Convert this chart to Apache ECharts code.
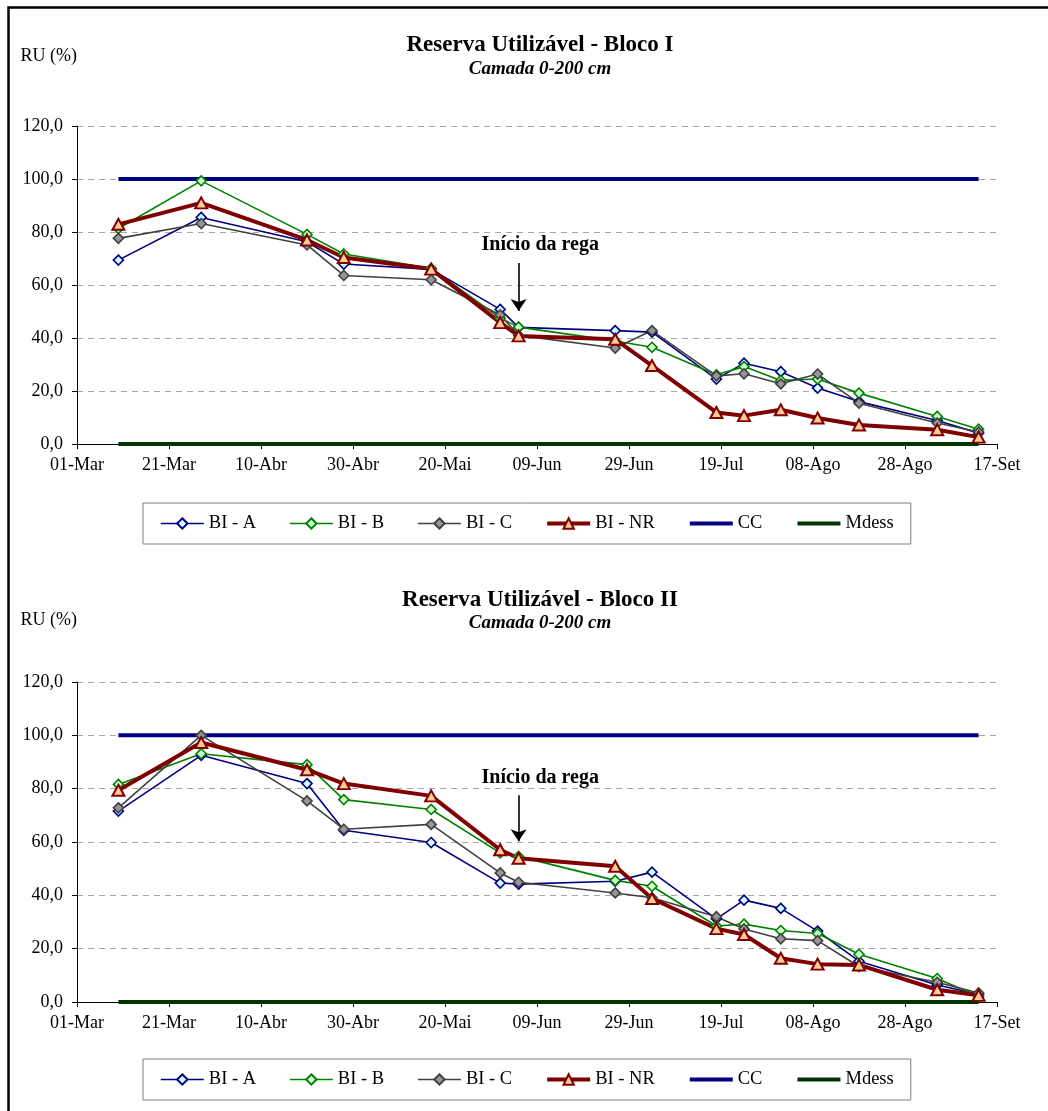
<!DOCTYPE html>
<html><head><meta charset="utf-8">
<script src="https://cdn.jsdelivr.net/npm/echarts@6/dist/echarts.min.js"></script>
<style>html,body{margin:0;padding:0;background:#fff;overflow:hidden}#c{width:1048px;height:1111px}</style>
</head><body><div id="c"></div>
<script>
// Sampling dates (DD-MM)
const sampleDates = ['10-03','28-03','20-04','28-04','17-05','01-06','05-06','26-06','04-07','18-07','24-07','01-08','09-08','18-08','04-09','13-09'];
const xTickLabels = ['01-Mar','21-Mar','10-Abr','30-Abr','20-Mai','09-Jun','29-Jun','19-Jul','08-Ago','28-Ago','17-Set'];
const seriesNames = ['BI - A','BI - B','BI - C','BI - NR','CC','Mdess'];

// Bloco I
const b1A  = [69.4, 85.5, 76.3, 67.9, 65.9, 50.8, 44.0, 42.8, 42.2, 24.5, 30.5, 27.3, 21.1, 16.0, 8.9, 4.1];
const b1B  = [81.3, 99.3, 79.1, 71.7, 66.3, 47.5, 44.1, 38.9, 36.5, 26.1, 29.2, 24.0, 24.5, 19.2, 10.4, 5.6];
const b1C  = [77.6, 83.2, 75.1, 63.6, 62.0, 48.7, 41.0, 36.2, 42.8, 25.7, 26.5, 22.7, 26.4, 15.4, 7.9, 4.5];
const b1NR = [82.9, 91.0, 77.0, 70.4, 66.0, 45.8, 40.8, 39.5, 29.6, 11.9, 10.7, 12.9, 9.8, 7.2, 5.4, 2.6];
// Bloco II
const b2A  = [71.6, 92.5, 81.9, 64.4, 59.8, 44.6, 44.2, 45.3, 48.7, 31.2, 38.2, 35.1, 26.6, 15.3, 6.4, 2.9];
const b2B  = [81.6, 93.1, 89.0, 75.9, 72.2, 55.9, 54.6, 45.6, 43.4, 28.5, 29.2, 26.8, 25.7, 17.9, 8.8, 2.1];
const b2C  = [72.8, 100.0, 75.4, 64.8, 66.6, 48.4, 44.9, 40.9, 39.1, 32.0, 27.4, 23.7, 23.0, 13.3, 7.4, 3.4];
const b2NR = [79.4, 97.3, 87.1, 81.9, 77.3, 57.1, 53.9, 50.9, 38.8, 27.5, 25.3, 16.4, 14.2, 13.9, 4.6, 2.5];
// Reference levels
const ccValue = 100;
const mdessValue = 0;
// Annotation "Início da rega" (date, arrow from/to values, text value)
const regaDate = '05-06';
const rega1 = {from: 68.3, to: 50.2, text: 75.0};
const rega2 = {from: 77.5, to: 60.3, text: 84.0};

const FONT = '"Liberation Serif", "Times New Roman", serif';

function dayOf(s) {
  const [d, m] = s.split('-').map(Number);
  return (Date.UTC(2007, m - 1, d) - Date.UTC(2007, 2, 1)) / 86400000;
}
const days = sampleDates.map(dayOf);
const pts = vals => days.map((d, i) => [d, vals[i]]);
const flat = v => [[days[0], v], [days[days.length - 1], v]];

function lineSeries(name, gi, data, color, fill, symbol, size, lw) {
  return {
    name, type: 'line', xAxisIndex: gi, yAxisIndex: gi, data,
    symbol, symbolSize: size, showSymbol: symbol !== 'none',
    lineStyle: {color, width: lw},
    itemStyle: {color: fill, borderColor: color, borderWidth: symbol === 'triangle' ? 2 : 1.6},
    emphasis: {disabled: true}, silent: true
  };
}

function blockSeries(gi, A, B, C, NR, rega) {
  const rd = dayOf(regaDate);
  const nr = lineSeries('BI - NR', gi, pts(NR), '#800000', '#ffcc99', 'triangle', [12, 11], 4);
  nr.markLine = {
    silent: true, symbol: ['none', 'arrow'], symbolSize: 12,
    lineStyle: {color: '#000', width: 1.6, type: 'solid'}, label: {show: false},
    emphasis: {disabled: true},
    data: [[{coord: [rd, rega.from]}, {coord: [rd, rega.to]}]]
  };
  nr.markPoint = {
    silent: true, symbol: 'circle', symbolSize: 0,
    label: {show: true, position: 'inside', formatter: 'Início da rega',
      fontFamily: FONT, fontWeight: 'bold', fontSize: 20, color: '#000'},
    data: [{coord: [rd + 4.7, rega.text]}]
  };
  return [
    lineSeries('BI - A', gi, pts(A), '#000080', '#ccffff', 'diamond', 10, 1.6),
    lineSeries('BI - B', gi, pts(B), '#008000', '#ccffcc', 'diamond', 10, 1.6),
    lineSeries('BI - C', gi, pts(C), '#404040', '#969696', 'diamond', 10, 1.6),
    nr,
    lineSeries('CC', gi, flat(ccValue), '#000080', '#000080', 'none', 0, 4),
    lineSeries('Mdess', gi, flat(mdessValue), '#003300', '#003300', 'none', 0, 4)
  ];
}

function xAxis(gi) {
  return {
    type: 'value', gridIndex: gi, min: 0, max: 200, interval: 20,
    axisLine: {show: true, lineStyle: {color: '#000', width: 1}},
    axisTick: {show: true, length: 5, lineStyle: {color: '#000'}},
    splitLine: {show: false},
    axisLabel: {fontFamily: FONT, fontSize: 18, color: '#000', margin: 12,
      formatter: v => xTickLabels[Math.round(v / 20)] || ''}
  };
}
function yAxis(gi, gap) {
  return {
    type: 'value', gridIndex: gi, min: 0, max: 120, interval: 20,
    name: 'RU (%)', nameLocation: 'end', nameGap: gap,
    nameTextStyle: {fontFamily: FONT, fontSize: 18, color: '#000', align: 'right', verticalAlign: 'middle'},
    axisLine: {show: true, lineStyle: {color: '#000', width: 1}},
    axisTick: {show: true, length: 5, lineStyle: {color: '#000'}},
    splitLine: {show: true, lineStyle: {color: '#a6a6a6', width: 1, type: [6, 5]}},
    axisLabel: {fontFamily: FONT, fontSize: 18, color: '#000', margin: 14,
      formatter: v => v.toFixed(1).replace('.', ',')}
  };
}
const legendLineWidths = [1.6, 1.6, 1.6, 4, 4, 4];
function legend(top) {
  return {
    top, left: 143, orient: 'horizontal',
    data: seriesNames.map((n, i) => {
      const item = {name: n, lineStyle: {width: legendLineWidths[i]}};
      if (i >= 4) item.itemStyle = {color: 'rgba(0,0,0,0)', borderWidth: 0, opacity: 0};
      return item;
    }),
    itemWidth: 43, itemHeight: 13, itemGap: 33,
    padding: [11, 17, 11, 17], borderColor: '#808080', borderWidth: 1,
    textStyle: {fontFamily: FONT, fontSize: 18.5, color: '#000'},
    selectedMode: false
  };
}
function txt(x, y, text, font) {
  return {type: 'text', x, y, silent: true,
    style: {text, font, fill: '#000', align: 'center', verticalAlign: 'middle', textAlign: 'center', textVerticalAlign: 'middle'}};
}

const chart = echarts.init(document.getElementById('c'), null, {renderer: 'canvas'});
chart.setOption({
  animation: false,
  backgroundColor: '#fff',
  grid: [
    {left: 77, right: 51, top: 126, height: 318},
    {left: 77, right: 51, top: 682, height: 320}
  ],
  xAxis: [xAxis(0), xAxis(1)],
  yAxis: [yAxis(0, 70), yAxis(1, 62)],
  legend: [legend(503), legend(1059)],
  series: [].concat(blockSeries(0, b1A, b1B, b1C, b1NR, rega1), blockSeries(1, b2A, b2B, b2C, b2NR, rega2)),
  graphic: [
    {type: 'polyline', silent: true, shape: {points: [[8.5, 1200], [8.5, 7.5], [1100, 7.5]]},
      style: {stroke: '#000', lineWidth: 2.5, fill: null}},
    txt(540, 45, 'Reserva Utilizável - Bloco I', 'bold 23px ' + FONT),
    txt(540, 69, 'Camada 0-200 cm', 'italic bold 19px ' + FONT),
    txt(540, 600, 'Reserva Utilizável - Bloco II', 'bold 23px ' + FONT),
    txt(540, 623, 'Camada 0-200 cm', 'italic bold 19px ' + FONT)
  ]
});
</script></body></html>
